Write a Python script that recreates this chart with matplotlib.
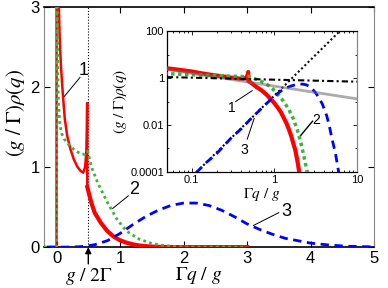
import matplotlib
matplotlib.use("Agg")
import matplotlib.pyplot as plt
import numpy as np
from matplotlib.ticker import FixedLocator, NullFormatter

plt.rcParams["font.family"] = ["Liberation Sans", "DejaVu Sans"]
plt.rcParams["mathtext.fontset"] = "stix"

# curve 1 (red): delta spike at 0, singular rise just below g/2Gamma, noisy tail
red_x = [-0.2, 0.0, 0.0, 0.02, 0.03, 0.05, 0.07, 0.10, 0.13, 0.17, 0.22, 0.27,
         0.33, 0.38, 0.42, 0.45, 0.47, 0.478, 0.482, 0.484, 0.50, 0.55, 0.60,
         0.70, 0.80, 0.90, 1.00, 1.10, 1.20, 1.30, 1.40, 1.50, 1.60, 1.70,
         1.80, 1.90, 2.00, 2.10, 3.00]
red_y = [0.0, 0.0, 5.0, 4.2, 3.2, 2.6, 2.25, 1.9, 1.6, 1.38, 1.22, 1.1,
         1.0, 0.95, 0.93, 1.0, 1.2, 1.5, 1.8, 0.75, 0.7, 0.55, 0.43,
         0.3, 0.2, 0.13, 0.085, 0.055, 0.035, 0.02, 0.012, 0.0065, 0.0034, 0.0016,
         0.0008, 0.0003, 0.0001, 0.00002, 0.0]

# curve 2 (green dotted)
green_x = [-0.2, 0.0, 0.0, 0.01, 0.02, 0.03, 0.05, 0.08, 0.12, 0.20, 0.30, 0.40,
           0.45, 0.49, 0.50, 0.55, 0.65, 0.80, 0.95, 1.10, 1.30, 1.50, 1.70,
           1.90, 2.10, 2.30, 2.50, 2.70, 3.00]
green_y = [0.0, 0.0, 5.0, 3.2, 2.2, 1.8, 1.55, 1.42, 1.35, 1.27, 1.2, 1.16,
           1.16, 1.2, 1.17, 1.0, 0.8, 0.56, 0.35, 0.2, 0.1, 0.045, 0.018,
           0.006, 0.0017, 0.0004, 0.0001, 0.00002, 0.0]

# curve 3 (blue dashed)
blue_x = [-0.15, 0.0, 0.05, 0.10, 0.15, 0.20, 0.30, 0.40, 0.50, 0.60, 0.80, 1.00,
          1.20, 1.40, 1.60, 1.80, 2.00, 2.20, 2.40, 2.60, 2.80, 3.00, 3.20,
          3.40, 3.60, 3.80, 4.00, 4.30, 4.60, 5.00, 5.50, 6.00, 6.50]
blue_y = [0.0, 0.0, 0.000005, 0.00006, 0.00025, 0.0006, 0.0028, 0.007, 0.016,
          0.03, 0.08, 0.17, 0.28, 0.38, 0.46, 0.52, 0.55, 0.55, 0.52, 0.46,
          0.38, 0.29, 0.22, 0.16, 0.11, 0.08, 0.05, 0.025, 0.01, 0.0025,
          0.0006, 0.0001, 0.00001]

# asymptotes in the inset
gray_x, gray_y = [0.05, 10.0], [2.3, 0.13]
dashdot_x, dashdot_y = [0.05, 10.0], [1.1, 0.7]
steep_x, steep_y = [0.115, 6.2], [1e-4, 100.0]

red_c = "#ff0000"
green_c = "#3cb43c"
blue_c = "#0000ff"

fig = plt.figure(figsize=(3.88, 2.88), dpi=100)
ax = fig.add_axes([0.113, 0.142, 0.851, 0.834])

tail = np.asarray(red_x) >= 0.484
ax.plot(red_x, red_y, color=red_c, lw=1.8, zorder=3)
ax.plot(np.asarray(red_x)[tail], np.asarray(red_y)[tail], color=red_c, lw=3,
        zorder=3)
ax.plot(green_x, green_y, color=green_c, lw=2, ls=(0, (1, 1.2)), zorder=4)
ax.plot(blue_x, blue_y, color=blue_c, lw=2, ls=(0, (3, 2)), zorder=5)
ax.plot([0.5, 0.5], [0, 3], color="k", lw=0.8, ls=":", zorder=2)

ax.set_xlim(-0.2, 5)
ax.set_ylim(0, 3)
ax.set_xticks([0, 1, 2, 3, 4, 5])
ax.set_yticks([0, 1, 2, 3])
ax.tick_params(direction="in", top=True, right=True, labelsize=12, length=4,
               width=0.8, pad=3)
for s in ["left", "right"]:
    ax.spines[s].set_color("#888888")
for s in ["top", "bottom"]:
    ax.spines[s].set_linewidth(1.2)

ax.set_xlabel(r"$\Gamma q\ /\ g$", fontsize=14)
ax.xaxis.set_label_coords(0.47, -0.075)
ax.set_ylabel(r"$(g\ /\ \Gamma)\rho(q)$", fontsize=15)
ax.yaxis.set_label_coords(-0.05, 0.56)

ax.annotate("", xy=(0.5, 0), xycoords=("data", "axes fraction"),
            xytext=(0.5, -0.07), textcoords=("data", "axes fraction"),
            arrowprops=dict(arrowstyle="-|>", color="k", lw=1, mutation_scale=9,
                            shrinkA=0, shrinkB=0))
ax.text(0.5, -0.078, r"$g\ /\ 2\Gamma$", transform=ax.get_xaxis_transform(),
        ha="center", va="top", fontsize=14)

# curve labels, main panel
ax.plot([0.11, 0.37], [1.87, 2.12], color="k", lw=0.7)
ax.text(0.42, 2.2, "1", fontsize=13, ha="center", va="center")
ax.plot([0.88, 1.13], [0.48, 0.64], color="k", lw=0.7)
ax.text(1.22, 0.72, "2", fontsize=13, ha="center", va="center")
ax.plot([3.1, 3.5], [0.27, 0.43], color="k", lw=0.7)
ax.text(3.62, 0.45, "3", fontsize=13, ha="center", va="center")

# inset, log-log
ins = fig.add_axes([0.430, 0.403, 0.490, 0.489])


def positive(xs, ys):
    xs, ys = np.asarray(xs), np.asarray(ys)
    keep = (xs > 0) & (ys > 0)
    return xs[keep], ys[keep]


ins.plot(*positive(red_x, red_y), color=red_c, lw=3, zorder=3)
ins.plot(*positive(green_x, green_y), color=green_c, lw=2.5, ls=(0, (1, 1)), zorder=4)
ins.plot(*positive(blue_x, blue_y), color=blue_c, lw=2, ls=(0, (3, 2)), zorder=5)
ins.plot(gray_x, gray_y, color="#666666", lw=2, alpha=0.55, zorder=6)
ins.plot(dashdot_x, dashdot_y, color="k", lw=1.5, ls=(0, (3, 1.5, 1, 1.5)), zorder=6)
ins.plot(steep_x, steep_y, color="#111111", lw=1.5, ls=(0, (1, 1.2)), zorder=2)

ins.set_xscale("log")
ins.set_yscale("log")
ins.set_xlim(0.05, 10)
ins.set_ylim(1e-4, 100)
ins.set_xticks([0.1, 1, 10])
ins.set_xticklabels(["0.1", "1", "10"])
ins.set_yticks([1e-4, 1e-2, 1, 100])
ins.set_yticklabels(["0.0001", "0.01", "1", "100"])
ins.xaxis.set_minor_locator(FixedLocator(
    [k * 10.0 ** e for e in (-2, -1, 0) for k in range(2, 10)]))
ins.yaxis.set_minor_locator(FixedLocator([1e-3, 1e-1, 10]))
ins.xaxis.set_minor_formatter(NullFormatter())
ins.yaxis.set_minor_formatter(NullFormatter())
ins.tick_params(which="both", direction="in", top=True, right=True, labelsize=8,
                width=0.6, pad=2)
ins.tick_params(which="major", length=3)
ins.tick_params(which="minor", length=1.5)
for s in ins.spines.values():
    s.set_linewidth(0.9)
ins.spines["right"].set_color("#888888")

ins.set_xlabel(r"$\Gamma q\ /\ g$", fontsize=11, labelpad=1)
ins.set_ylabel(r"$(g\ /\ \Gamma)\rho(q)$", fontsize=11, labelpad=1)

# curve labels, inset
ins.plot([0.34, 0.54], [0.1, 0.29], color="k", lw=0.7)
ins.text(0.31, 0.055, "1", fontsize=10, ha="center", va="center")
ins.plot([2.0, 2.9], [0.003, 0.0145], color="k", lw=1)
ins.text(3.2, 0.016, "2", fontsize=10, ha="center", va="center")
ins.plot([0.57, 0.47], [0.019, 0.0025], color="k", lw=0.7)
ins.text(0.43, 0.0009, "3", fontsize=10, ha="center", va="center")

fig.savefig("out.png", dpi=100)
